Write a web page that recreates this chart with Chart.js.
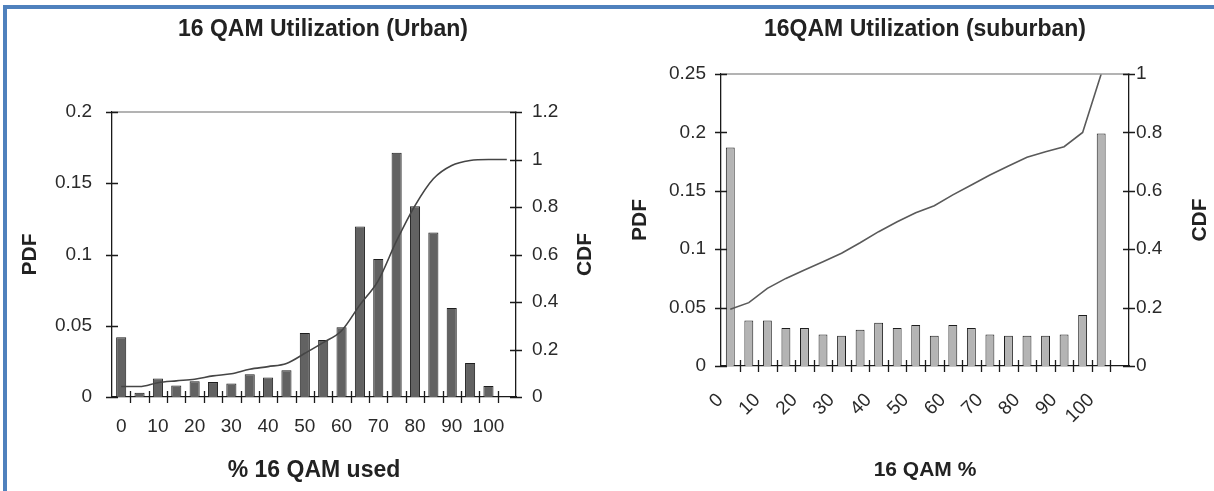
<!DOCTYPE html>
<html><head><meta charset="utf-8">
<script src="https://cdn.jsdelivr.net/npm/chart.js@4.4.0/dist/chart.umd.min.js"></script>
<style>
html,body{margin:0;padding:0;background:#fff;overflow:hidden;width:1214px;height:491px;}
#frame{position:absolute;left:3px;top:5px;width:1211px;height:486px;border-top:4px solid #4f81bd;border-left:4px solid #4f81bd;box-sizing:border-box;}
#c1{position:absolute;left:0;top:0;}
#c2{position:absolute;left:616px;top:0;}
</style></head><body>
<div id="frame"></div>
<canvas id="c1" width="646" height="491"></canvas>
<canvas id="c2" width="618" height="491"></canvas>
<script>
// ---- data ----
const binCategories = ['0','5','10','15','20','25','30','35','40','45','50','55','60','65','70','75','80','85','90','95','100',''];
const xTickLabels = ['0','10','20','30','40','50','60','70','80','90','100'];

const urbanPdf = [0.042,0.003,0.013,0.008,0.011,0.0105,0.0094,0.016,0.0136,0.0188,0.045,0.040,0.049,0.1196,0.0968,0.1714,0.1339,0.1154,0.0624,0.0239,0.0077,null];
const urbanCdf = [0.044,0.044,0.060,0.068,0.075,0.089,0.098,0.117,0.128,0.141,0.184,0.229,0.279,0.388,0.49,0.658,0.806,0.919,0.975,0.996,1.0,1.0];
const urbanPdfTicks = [0,0.05,0.1,0.15,0.2];
const urbanCdfTicks = [0,0.2,0.4,0.6,0.8,1,1.2];

const suburbanPdf = [0.187,0.039,0.039,0.0325,0.0325,0.027,0.026,0.031,0.037,0.0325,0.035,0.026,0.035,0.0325,0.027,0.026,0.026,0.026,0.027,0.0437,0.199,null];
const suburbanCdf = [0.194,0.217,0.266,0.30,0.329,0.357,0.386,0.422,0.46,0.494,0.525,0.549,0.586,0.62,0.654,0.685,0.715,0.734,0.751,0.80,1.0,null];
const suburbanPdfTicks = [0,0.05,0.1,0.15,0.2,0.25];
const suburbanCdfTicks = [0,0.2,0.4,0.6,0.8,1];

// ---- styling helpers ----
const FONT = "'Liberation Sans', Arial, Helvetica, sans-serif";
const TXT = '#2a2a2a';
const fmt = v => String(+v.toFixed(3));

const crossTicks = {
  id: 'crossTicks',
  afterDatasetsDraw(chart) {
    const ctx = chart.ctx, a = chart.chartArea, L = 6;
    ctx.save();
    ctx.strokeStyle = '#9a9a9a'; ctx.lineWidth = 1.5;
    ctx.beginPath(); ctx.moveTo(a.left, a.top); ctx.lineTo(a.right, a.top); ctx.stroke();
    ctx.strokeStyle = '#1a1a1a'; ctx.lineWidth = 1.3;
    ctx.beginPath();
    ['y','y2'].forEach(id => {
      const s = chart.scales[id];
      const x0 = id === 'y' ? a.left : a.right;
      s.ticks.forEach(t => {
        const py = Math.round(s.getPixelForValue(t.value)) + 0.5;
        ctx.moveTo(x0 - L, py); ctx.lineTo(x0 + L, py);
      });
    });
    const xs = chart.scales.x;
    const n = chart.data.labels.length;
    for (let i = 1; i < n; i++) {
      const px = Math.round((xs.getPixelForValue(i - 1) + xs.getPixelForValue(i)) / 2) + 0.5;
      ctx.moveTo(px, a.bottom - L); ctx.lineTo(px, a.bottom + L);
    }
    ctx.stroke();
    ctx.restore();
  }
};

// right-axis title reading bottom-to-top, like the reference
const cdfTitle = {
  id: 'cdfTitle',
  afterDraw(chart, args, opts) {
    const ctx = chart.ctx, a = chart.chartArea;
    ctx.save();
    ctx.font = 'bold ' + opts.size + 'px ' + FONT;
    ctx.fillStyle = '#222';
    ctx.textAlign = 'center'; ctx.textBaseline = 'middle';
    ctx.translate(a.right + opts.dx, (a.top + a.bottom) / 2 + opts.dy);
    ctx.rotate(-Math.PI / 2);
    ctx.fillText(opts.text, 0, 0);
    ctx.restore();
  }
};

function makeChart(canvasId, cfg) {
  const {title, xTitle, pdf, cdf, pdfTicks, cdfTicks, barFill, barPct, lineTension, lineColor,
         yW, y2W, xH, titlePad, yTitlePad, xTitlePad, xTitleSize, yTickPad, y2TickPad, xTickPad, rotate, labelOffset, cdfDx, cdfDy} = cfg;
  return new Chart(document.getElementById(canvasId), {
    type: 'bar',
    data: {
      labels: binCategories,
      datasets: [
        { type: 'line', data: cdf, yAxisID: 'y2', borderColor: lineColor, borderWidth: 1.6,
          pointRadius: 0, tension: lineTension, cubicInterpolationMode: lineTension ? 'monotone' : 'default', fill: false, order: 0 },
        { type: 'bar', data: pdf, yAxisID: 'y', backgroundColor: barFill, borderColor: '#1e1e1e',
          borderWidth: 1, barPercentage: barPct, categoryPercentage: 1.0, order: 1 }
      ]
    },
    options: {
      responsive: false, animation: false, devicePixelRatio: 1,
      layout: { padding: 0 },
      plugins: {
        legend: { display: false }, tooltip: { enabled: false },
        title: { display: true, text: title, color: '#222',
                 font: { family: FONT, size: 23, weight: 'bold', lineHeight: 1.2 },
                 padding: titlePad },
        cdfTitle: { text: 'CDF', size: 21, dx: cdfDx, dy: cdfDy }
      },
      scales: {
        x: {
          grid: { display: false, drawTicks: false },
          border: { display: true, color: '#1a1a1a', width: 1.3 },
          ticks: { autoSkip: false, color: TXT, font: { family: FONT, size: 19 }, padding: xTickPad,
                   maxRotation: rotate, minRotation: rotate, labelOffset: labelOffset,
                   callback: function(v, i) { const l = binCategories[i]; return xTickLabels.includes(l) ? l : ''; } },
          title: { display: true, text: xTitle, color: '#222', font: { family: FONT, size: xTitleSize, weight: 'bold' }, padding: xTitlePad },
          afterFit: s => { s.height = xH; }
        },
        y: {
          position: 'left', min: pdfTicks[0], max: pdfTicks[pdfTicks.length - 1],
          afterBuildTicks: s => { s.ticks = pdfTicks.map(v => ({ value: v })); },
          grid: { display: false, drawTicks: false },
          border: { display: true, color: '#1a1a1a', width: 1.3 },
          ticks: { color: TXT, font: { family: FONT, size: 19 }, padding: yTickPad, callback: v => fmt(v) },
          title: { display: true, text: 'PDF', color: '#222', font: { family: FONT, size: 21, weight: 'bold' }, padding: yTitlePad },
          afterFit: s => { s.width = yW; }
        },
        y2: {
          position: 'right', min: cdfTicks[0], max: cdfTicks[cdfTicks.length - 1],
          afterBuildTicks: s => { s.ticks = cdfTicks.map(v => ({ value: v })); },
          grid: { display: false, drawTicks: false },
          border: { display: true, color: '#1a1a1a', width: 1.3 },
          ticks: { color: TXT, font: { family: FONT, size: 19 }, padding: y2TickPad, callback: v => fmt(v) },
          title: { display: false },
          afterFit: s => { s.width = y2W; }
        }
      }
    },
    plugins: [crossTicks, cdfTitle]
  });
}

makeChart('c1', {
  title: '16 QAM Utilization (Urban)', xTitle: '% 16 QAM used', xTitleSize: 23,
  pdf: urbanPdf, cdf: urbanCdf, pdfTicks: urbanPdfTicks, cdfTicks: urbanCdfTicks,
  barFill: '#626262', barPct: 0.55, lineTension: 0.4, lineColor: '#454545',
  yW: 112, y2W: 130, xH: 94,
  titlePad: { top: 16, bottom: 68.4 },
  yTitlePad: { top: 18 }, xTitlePad: { bottom: 7 },
  yTickPad: 20, y2TickPad: 16, xTickPad: 18, rotate: 0, labelOffset: 0,
  cdfDx: 69, cdfDy: 0
});

makeChart('c2', {
  title: '16QAM Utilization (suburban)', xTitle: '16 QAM %', xTitleSize: 21,
  pdf: suburbanPdf, cdf: suburbanCdf, pdfTicks: suburbanPdfTicks, cdfTicks: suburbanCdfTicks,
  barFill: '#b4b4b4', barPct: 0.48, lineTension: 0, lineColor: '#5a5a5a',
  yW: 105, y2W: 105, xH: 125,
  titlePad: { top: 16, bottom: 30.4 },
  yTitlePad: { top: 12 }, xTitlePad: { bottom: 8 },
  yTickPad: 15, y2TickPad: 7, xTickPad: 23, rotate: 45, labelOffset: -10,
  cdfDx: 71, cdfDy: 0
});
</script>
</body></html>
